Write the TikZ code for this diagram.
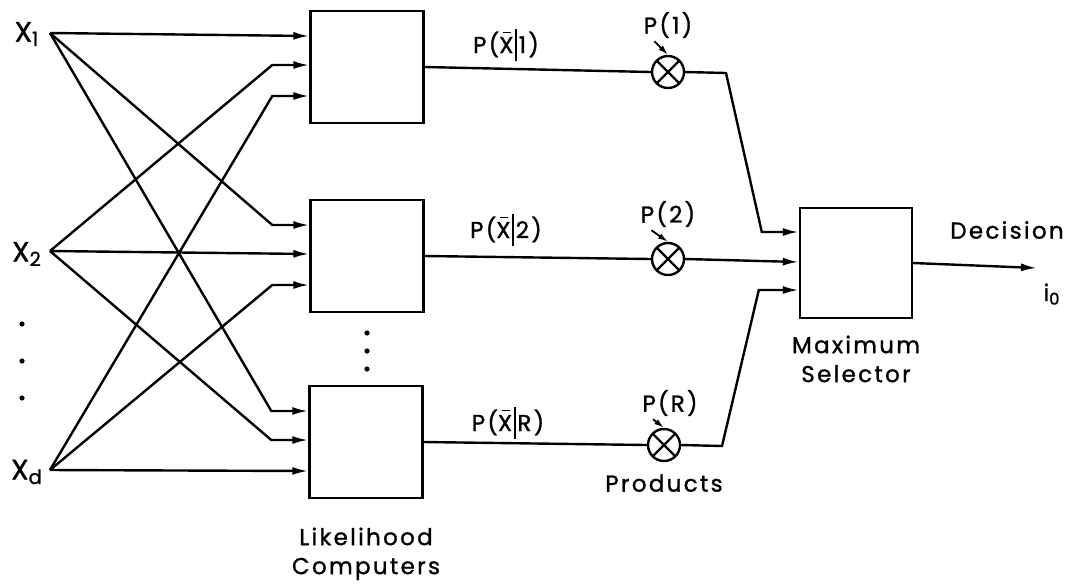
\documentclass[tikz,border=0pt]{standalone}
\usepackage{fontspec}
\setmainfont{Poppins}[LetterSpace=10,FakeBold=1.2]
\usetikzlibrary{arrows.meta,positioning,calc}
\tikzset{
  wire/.style={line width=1.2pt},
  arrow/.style={wire,-{Latex[length=8pt,width=4pt]}},
  tick/.style={line width=0.9pt,-{Latex[length=5pt,width=3pt]}},
  likbox/.style={draw,line width=1.2pt,minimum width=56.5pt,minimum height=56pt,inner sep=0pt},
  selbox/.style={draw,line width=1.2pt,minimum width=56pt,minimum height=55pt,inner sep=0pt},
  mult/.style={circle,draw,line width=1.2pt,minimum size=16pt,inner sep=0pt,
    path picture={\draw[line width=1.1pt]
      (path picture bounding box.north west)--(path picture bounding box.south east)
      (path picture bounding box.north east)--(path picture bounding box.south west);}},
  tag/.style={font=\fontsize{11.5}{14.5}\selectfont,inner sep=0pt},
  inlabel/.style={font=\fontsize{14}{16}\selectfont,inner sep=0pt}
}
\newcommand{\xbar}{\leavevmode\rlap{\hspace{0.17em}\rule[0.86em]{0.36em}{0.7pt}}X}
\newcommand{\given}{\hspace{0.08em}\rule[-0.35em]{0.8pt}{1.4em}\hspace{0.08em}}
\begin{document}
\begin{tikzpicture}[x=0.5pt,y=-0.5pt]
\useasboundingbox (0,0) rectangle (1080,585);
% inputs
\node[inlabel] (x1) at (27,34) {X\textsubscript{1}};
\node[inlabel] (x2) at (27,254) {X\textsubscript{2}};
\node[inlabel] (xd) at (27,472) {X\textsubscript{d}};
\coordinate (s1) at (50,33);
\coordinate (s2) at (50,251);
\coordinate (sd) at (50,470);
\foreach \y in {324,361,398} \fill (22,\y) circle (1.3pt);
% likelihood computers
\node[likbox] (lik1) at (367,67) {};
\node[likbox] (lik2) at (367,256) {};
\node[likbox] (likR) at (366,442) {};
\foreach \y in {333,351,369} \fill (367,\y) circle (1.3pt);
\node[tag,align=center,below=14pt of likR] (likcap) {Likelihood\\Computers};
% fan-out of every input to every computer
\foreach \s/\off [count=\i] in {s1/-31,s2/-2,sd/29}{
  \foreach \b [count=\j] in {lik1,lik2,likR}{
    \ifnum\i=\j
      \draw[arrow] (\s) -- ($(\b.west)+(0,\off)$);
    \else
      \draw[arrow] (\s) -- ($(\b.west)+(-37,\off)$) -- ($(\b.west)+(0,\off)$);
    \fi
  }
}
% products
\node[mult] (m1) at (668,72) {};
\node[mult] (m2) at (668,259) {};
\node[mult] (mR) at (664,445) {};
\node[tag,below=6pt of mR] (prodcap) {Products};
\draw[wire] (lik1.east) -- (m1.west);
\draw[wire] (lik2.east) -- (m2.west);
\draw[wire] (likR.east) -- (mR.west);
\node[tag] (pd1) at (506,45) {P(\xbar\given1)};
\node[tag] (pd2) at (506,230) {P(\xbar\given2)};
\node[tag] (pdR) at (508,423) {P(\xbar\given R)};
\node[tag] (pr1) at (668,25) {P(1)};
\node[tag] (pr2) at (668,214) {P(2)};
\node[tag] (prR) at (670,403) {P(R)};
\draw[tick] ($(pr1.south west)+(11,3)$) -- (m1.north);
\draw[tick] ($(pr2.south west)+(11,3)$) -- (m2.north);
\draw[tick] ($(prR.south west)+(11,3)$) -- (mR.north);
% maximum selector
\node[selbox] (maxsel) at (856,263) {};
\node[tag,align=center,below=8pt of maxsel] (selcap) {Maximum\\Selector};
\coordinate (b1) at (726,73);
\coordinate (bR) at (722,446);
\draw[arrow] (m1.east) -- (b1) -- ($(maxsel.west)+(-37,-31)$) -- ($(maxsel.west)+(0,-31)$);
\draw[arrow] (m2.east) -- ($(maxsel.west)+(0,-1)$);
\draw[arrow] (mR.east) -- (bR) -- ($(maxsel.west)+(-40,27)$) -- ($(maxsel.west)+(0,27)$);
% decision
\coordinate (out) at (1037,268);
\draw[arrow] (maxsel.east) -- (out);
\node[tag] (deccap) at (1007,230) {Decision};
\node[tag] (iout) at (1052,294) {i\textsubscript{0}};
\end{tikzpicture}
\end{document}
